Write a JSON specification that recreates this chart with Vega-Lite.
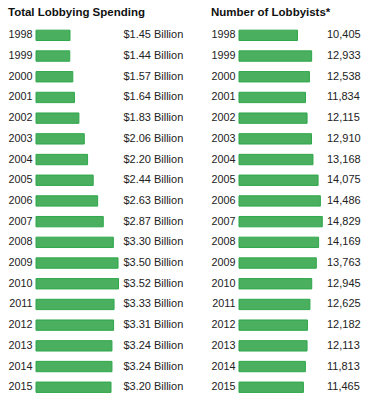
{
  "$schema": "https://vega.github.io/schema/vega-lite/v6.json",
  "padding": {"left": 7, "top": 7, "right": 0, "bottom": 0},
  "background": "white",
  "data": {
    "values": [
      {"year": "1998", "spending": 1.45, "lobbyists": 10405},
      {"year": "1999", "spending": 1.44, "lobbyists": 12933},
      {"year": "2000", "spending": 1.57, "lobbyists": 12538},
      {"year": "2001", "spending": 1.64, "lobbyists": 11834},
      {"year": "2002", "spending": 1.83, "lobbyists": 12115},
      {"year": "2003", "spending": 2.06, "lobbyists": 12910},
      {"year": "2004", "spending": 2.20, "lobbyists": 13168},
      {"year": "2005", "spending": 2.44, "lobbyists": 14075},
      {"year": "2006", "spending": 2.63, "lobbyists": 14486},
      {"year": "2007", "spending": 2.87, "lobbyists": 14829},
      {"year": "2008", "spending": 3.30, "lobbyists": 14169},
      {"year": "2009", "spending": 3.50, "lobbyists": 13763},
      {"year": "2010", "spending": 3.52, "lobbyists": 12945},
      {"year": "2011", "spending": 3.33, "lobbyists": 12625},
      {"year": "2012", "spending": 3.31, "lobbyists": 12182},
      {"year": "2013", "spending": 3.24, "lobbyists": 12113},
      {"year": "2014", "spending": 3.24, "lobbyists": 11813},
      {"year": "2015", "spending": 3.20, "lobbyists": 11465}
    ]
  },
  "spacing": 24,
  "hconcat": [
    {
      "width": 150,
      "height": 372.6,
      "title": {"text": "Total Lobbying Spending", "anchor": "start", "frame": "bounds", "fontSize": 11.5, "fontWeight": "bold", "font": "Liberation Sans", "color": "#111", "offset": 6},
      "transform": [{"calculate": "'$' + format(datum.spending, '.2f') + ' Billion'", "as": "label"}],
      "encoding": {
        "y": {"field": "year", "type": "ordinal", "sort": "ascending",
              "scale": {"paddingInner": 0.5, "paddingOuter": 0.25},
              "axis": {"title": null, "domain": false, "ticks": false, "labelPadding": 4, "labelFontSize": 10.8, "labelFont": "Liberation Sans", "labelColor": "#222"}}
      },
      "layer": [
        {
          "mark": {"type": "bar", "fill": "#4aaf5f", "stroke": "#2ea84a", "strokeWidth": 1},
          "encoding": {
            "x": {"field": "spending", "type": "quantitative", "scale": {"domain": [0, 6.4], "nice": false}, "axis": null}
          }
        },
        {
          "mark": {"type": "text", "align": "left", "baseline": "middle", "fontSize": 11, "font": "Liberation Sans", "color": "#222"},
          "encoding": {
            "x": {"datum": 3.73, "type": "quantitative"},
            "text": {"field": "label"}
          }
        }
      ]
    },
    {
      "width": 125,
      "height": 372.6,
      "title": {"text": "Number of Lobbyists*", "anchor": "start", "frame": "bounds", "fontSize": 11.5, "fontWeight": "bold", "font": "Liberation Sans", "color": "#111", "offset": 6},
      "encoding": {
        "y": {"field": "year", "type": "ordinal", "sort": "ascending",
              "scale": {"paddingInner": 0.5, "paddingOuter": 0.25},
              "axis": {"title": null, "domain": false, "ticks": false, "labelPadding": 4, "labelFontSize": 10.8, "labelFont": "Liberation Sans", "labelColor": "#222"}}
      },
      "layer": [
        {
          "mark": {"type": "bar", "fill": "#4aaf5f", "stroke": "#2ea84a", "strokeWidth": 1},
          "encoding": {
            "x": {"field": "lobbyists", "type": "quantitative", "scale": {"domain": [0, 22250], "nice": false}, "axis": null}
          }
        },
        {
          "mark": {"type": "text", "align": "left", "baseline": "middle", "fontSize": 11, "font": "Liberation Sans", "color": "#222"},
          "encoding": {
            "x": {"datum": 15664, "type": "quantitative"},
            "text": {"field": "lobbyists", "format": ","}
          }
        }
      ]
    }
  ],
  "config": {"view": {"stroke": null}}
}
